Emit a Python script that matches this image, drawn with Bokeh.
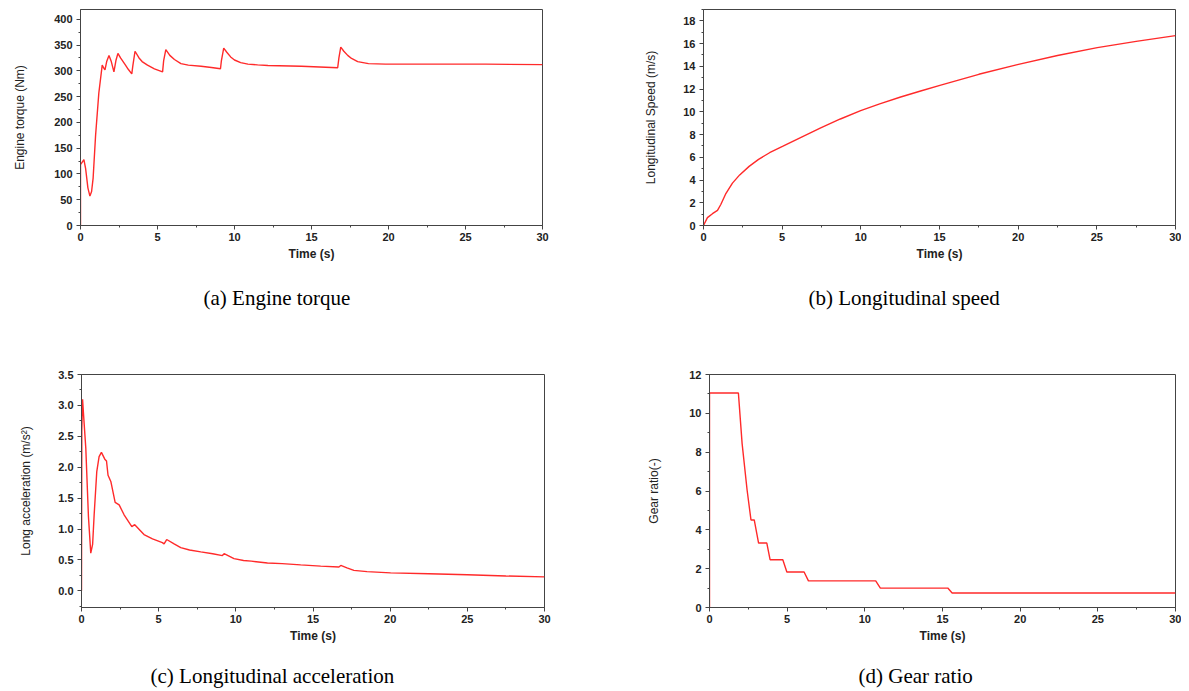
from bokeh.plotting import figure
from bokeh.layouts import column, row
from bokeh.models import Range1d, SingleIntervalTicker, NumeralTickFormatter, Label
from bokeh.embed import file_html
from bokeh.resources import INLINE

# ---------------- data ----------------
torque_t = [0, 0, 0.22, 0.33, 0.48, 0.61, 0.72, 0.82, 0.98, 1.19, 1.41, 1.52, 1.59, 1.7, 1.85, 2.0,
            2.17, 2.3, 2.43, 2.6, 2.9, 3.1, 3.33, 3.4, 3.54, 3.8, 4.0, 4.35, 4.8, 5.33, 5.4, 5.54,
            5.8, 6.1, 6.52, 7.0, 7.83, 8.5, 9.09, 9.15, 9.3, 9.5, 9.75, 10.0, 10.4, 10.87, 11.5,
            12.17, 14.35, 16.7, 16.78, 16.9, 17.1, 17.35, 17.6, 18.0, 18.7, 19.8, 26.3, 30]
torque_v = [0, 118, 128, 111, 73, 57, 66, 92, 175, 257, 311, 305, 302, 318, 330, 318,
            298, 320, 334, 325, 312, 303, 294, 310, 338, 325, 318, 311, 304, 298, 320, 341,
            330, 322, 314, 311, 309, 306.5, 304, 320, 344, 336, 327, 321, 316, 313, 311.5,
            310.5, 309, 306, 325, 346, 338, 330, 324, 318, 314, 313, 313, 312]

speed_t = [0, 0.25, 0.57, 0.89, 1.1, 1.4, 1.84, 2.3, 2.9, 3.5, 4.2, 5.02, 6.2, 7.45, 8.7, 9.99,
           11.2, 12.53, 13.8, 15.08, 17.5, 19.95, 22.5, 25.03, 27.5, 30]
speed_v = [0, 0.69, 1.04, 1.33, 1.85, 2.75, 3.73, 4.45, 5.2, 5.82, 6.4, 6.95, 7.75, 8.58, 9.37, 10.1,
           10.7, 11.3, 11.83, 12.35, 13.3, 14.15, 14.95, 15.65, 16.2, 16.7]

acc_t = [0, 0.02, 0.07, 0.12, 0.28, 0.45, 0.6, 0.72, 0.82, 0.99, 1.14, 1.29, 1.51, 1.62, 1.72, 1.9,
         2.18, 2.44, 2.76, 3.26, 3.45, 4.05, 4.6, 5.24, 5.35, 5.52, 6.0, 6.43, 7.0, 7.73, 8.5, 9.13,
         9.24, 9.88, 10.5, 11.0, 12.05, 13.0, 14.2, 15.5, 16.68, 16.8, 17.2, 17.65, 18.5, 20.03,
         22.5, 25, 27.5, 30]
acc_v = [0, 2.6, 3.1, 2.9, 2.3, 1.2, 0.61, 0.75, 1.23, 1.93, 2.17, 2.24, 2.13, 2.1, 1.87, 1.77,
         1.43, 1.39, 1.23, 1.04, 1.07, 0.91, 0.84, 0.78, 0.76, 0.83, 0.76, 0.70, 0.66, 0.63, 0.60, 0.57,
         0.60, 0.52, 0.49, 0.48, 0.45, 0.44, 0.42, 0.40, 0.385, 0.41, 0.37, 0.33, 0.31, 0.29,
         0.275, 0.26, 0.24, 0.225]

gear_t = [0, 0, 1.86, 2.1, 2.42, 2.67, 2.88, 3.16, 3.69, 3.9, 4.72, 4.98, 6.09, 6.37, 10.7, 11.0, 15.34, 15.62, 30]
gear_v = [0, 11.05, 11.05, 8.44, 6.05, 4.51, 4.51, 3.32, 3.32, 2.46, 2.46, 1.83, 1.83, 1.37, 1.37, 1.0, 1.0, 0.75, 0.75]

captions = ["(a) Engine torque", "(b) Longitudinal speed",
            "(c) Longitudinal acceleration", "(d) Gear ratio"]
ylabels = ["Engine torque (Nm)", "Longitudinal Speed (m/s)",
           "Long acceleration (m/s\u00b2)", "Gear ratio(-)"]
xlabel = "Time (s)"

LINE = "#ff2a2a"
AX = "#444444"


def make(t, v, ylab, y0, y1, yint, width, height, bl, br, bt, bb, ylab_stand, fmt=None):
    p = figure(width=width, height=height, x_range=Range1d(0, 30), y_range=Range1d(y0, y1),
               output_backend="svg", toolbar_location=None,
               min_border_left=bl, min_border_right=br, min_border_top=bt, min_border_bottom=bb)
    p.grid.visible = False
    p.outline_line_color = AX
    p.outline_line_width = 1
    p.xaxis.ticker = SingleIntervalTicker(interval=5, num_minor_ticks=2)
    p.yaxis.ticker = SingleIntervalTicker(interval=yint, num_minor_ticks=2)
    if fmt:
        p.yaxis.formatter = NumeralTickFormatter(format=fmt)
    for ax in (p.xaxis[0], p.yaxis[0]):
        ax.axis_line_color = AX
        ax.major_tick_line_color = AX
        ax.minor_tick_line_color = AX
        ax.major_tick_out = 4
        ax.major_tick_in = 0
        ax.minor_tick_out = 2
        ax.minor_tick_in = 0
        ax.major_label_text_font = "Liberation Sans"
        ax.major_label_text_font_style = "bold"
        ax.major_label_text_font_size = "11px"
        ax.major_label_text_color = "#222222"
        ax.axis_label_text_color = "#222222"
        ax.axis_label_text_font = "Liberation Sans"
    p.xaxis.axis_label = xlabel
    p.xaxis.axis_label_text_font_style = "bold"
    p.xaxis.axis_label_text_font_size = "12px"
    p.xaxis.axis_label_standoff = 3
    p.xaxis.major_label_standoff = 3
    p.yaxis.axis_label = ylab
    p.yaxis.axis_label_text_font_style = "normal"
    p.yaxis.axis_label_text_font_size = "12px"
    p.yaxis.axis_label_standoff = ylab_stand
    p.yaxis.major_label_standoff = 4
    p.line(t, v, line_color=LINE, line_width=1.4)
    return p


def caption(text, width, height, cx, cy):
    # a bare strip (no axes, no outline) that carries one caption; units are pixels
    c = figure(width=width, height=height, x_range=Range1d(0, width), y_range=Range1d(height, 0),
               x_axis_type=None, y_axis_type=None, output_backend="svg", toolbar_location=None,
               min_border=0)
    c.outline_line_color = None
    c.add_layout(Label(x=cx, y=cy, text=text, text_align="left", text_baseline="middle",
                       text_font="Liberation Serif", text_font_size="21px",
                       text_font_style="normal", text_color="#000000"))
    return c


pa = make(torque_t, torque_v, ylabels[0], 0, 419, 50,
          620, 275, 80, 78, 5, 50, 24)
pb = make(speed_t, speed_v, ylabels[1], 0, 19, 2,
          561, 275, 83, 6, 9, 47, 22)
pc = make(acc_t, acc_v, ylabels[2], -0.27, 3.5, 0.5,
          620, 330, 81, 76, 52, 43, 22, fmt="0.0")
pd = make(gear_t, gear_v, ylabels[3], 0, 12, 2,
          561, 330, 89, 6, 54, 42, 25)

ca = caption(captions[0], 620, 45, 203, 22)
cb = caption(captions[1], 561, 45, 188, 22)
cc = caption(captions[2], 620, 41, 150, 25)
cd = caption(captions[3], 561, 41, 238, 25)

layout = column(row(pa, pb), row(ca, cb), row(pc, pd), row(cc, cd))
open("out.html", "w").write(file_html(layout, INLINE))
